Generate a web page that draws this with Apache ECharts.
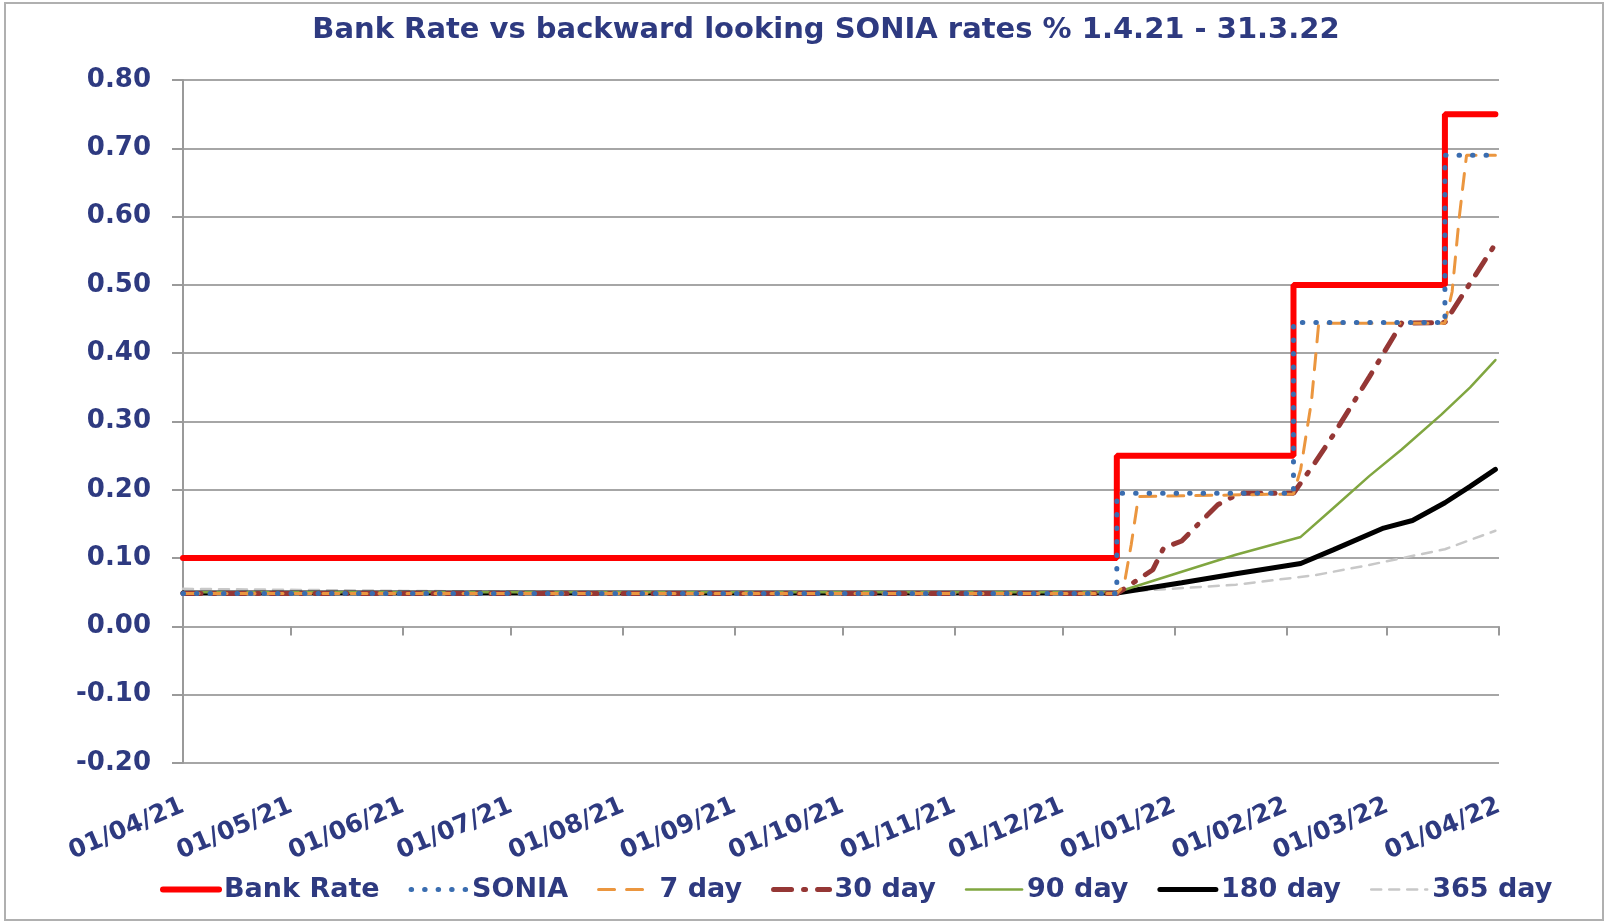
<!DOCTYPE html>
<html>
<head>
<meta charset="utf-8">
<title>Bank Rate vs SONIA</title>
<script src="https://cdn.jsdelivr.net/npm/echarts@6/dist/echarts.min.js"></script>
<style>
  html, body { margin: 0; padding: 0; background: #fff; }
  #main { width: 1608px; height: 922px; }
</style>
</head>
<body>
<div id="main"></div>
<script>
// 刻度（每月1日）
var monthTicks = ['2021-04-01', '2021-05-01', '2021-06-01', '2021-07-01', '2021-08-01', '2021-09-01',
  '2021-10-01', '2021-11-01', '2021-12-01', '2022-01-01', '2022-02-01', '2022-03-01', '2022-04-01'];

// 各序列：[日期, %]
var bankRate = [['2021-04-01', 0.10], ['2021-12-16', 0.25], ['2022-02-03', 0.50], ['2022-03-17', 0.75], ['2022-03-31', 0.75]];
var sonia = [['2021-04-01', 0.048], ['2021-12-16', 0.195], ['2022-02-03', 0.445], ['2022-03-17', 0.69], ['2022-03-31', 0.69]];
var day7 = [['2021-04-01', 0.048], ['2021-12-16', 0.048], ['2021-12-18', 0.06], ['2021-12-20', 0.12], ['2021-12-22', 0.19],
  ['2022-02-03', 0.194], ['2022-02-05', 0.23], ['2022-02-08', 0.33], ['2022-02-10', 0.444],
  ['2022-03-17', 0.444], ['2022-03-19', 0.49], ['2022-03-21', 0.60], ['2022-03-23', 0.69], ['2022-03-31', 0.69]];
var day30 = [['2021-04-01', 0.048], ['2021-12-16', 0.048], ['2021-12-20', 0.062], ['2021-12-26', 0.083], ['2021-12-29', 0.115],
  ['2022-01-03', 0.125], ['2022-01-08', 0.152], ['2022-01-13', 0.178], ['2022-01-19', 0.195], ['2022-02-03', 0.195],
  ['2022-02-09', 0.24], ['2022-02-14', 0.28], ['2022-02-24', 0.365], ['2022-03-05', 0.444], ['2022-03-17', 0.445],
  ['2022-03-31', 0.56]];
var day90 = [['2021-04-01', 0.050], ['2021-12-16', 0.050], ['2022-01-03', 0.08], ['2022-01-18', 0.105], ['2022-02-05', 0.131],
  ['2022-02-14', 0.173], ['2022-02-24', 0.22], ['2022-03-05', 0.259], ['2022-03-16', 0.31], ['2022-03-24', 0.35], ['2022-03-31', 0.39]];
var day180 = [['2021-04-01', 0.049], ['2021-12-16', 0.049], ['2022-01-03', 0.064], ['2022-01-18', 0.077], ['2022-02-05', 0.092],
  ['2022-02-14', 0.112], ['2022-02-28', 0.144], ['2022-03-08', 0.155], ['2022-03-17', 0.181], ['2022-03-24', 0.205], ['2022-03-31', 0.23]];
var day365 = [['2021-04-01', 0.055], ['2021-06-01', 0.052], ['2021-08-01', 0.050], ['2021-12-16', 0.050], ['2022-01-18', 0.061],
  ['2022-02-09', 0.075], ['2022-02-24', 0.09], ['2022-03-17', 0.113], ['2022-03-31', 0.14]];

var navy = '#2E3A80';
var gridGrey = '#A6A6A6';
var font = 'DejaVu Sans';

// 线型
var styles = {
  'Bank Rate': { color: '#FF0000', width: 6, type: 'solid' },
  'SONIA': { color: '#3A6DB0', width: 5, type: [0.5, 13] },
  '7 day': { color: '#EB963F', width: 3, type: [16, 12] },
  '30 day': { color: '#953735', width: 5, type: [18, 12, 2, 12] },
  '90 day': { color: '#80A640', width: 2.5, type: 'solid' },
  '180 day': { color: '#000000', width: 5, type: 'solid' },
  '365 day': { color: '#C8C8C8', width: 2.5, type: [10, 8] }
};

function toTime(s) {
  var p = s.split('-');
  return new Date(+p[0], +p[1] - 1, +p[2]).getTime();
}
function pad(n) { return n < 10 ? '0' + n : '' + n; }

var tickValues = monthTicks.map(toTime);

function lineSeries(name, data, step) {
  var s = styles[name];
  return {
    name: name,
    type: 'line',
    symbol: 'none',
    step: step || false,
    color: s.color,
    lineStyle: { color: s.color, width: s.width, type: s.type, cap: 'round' },
    data: data.map(function (d) { return [toTime(d[0]), d[1]]; })
  };
}

var legendNames = ['Bank Rate', 'SONIA', '7 day', '30 day', '90 day', '180 day', '365 day'];

var myChart = echarts.init(document.getElementById('main'));
myChart.setOption({
  backgroundColor: '#fff',
  animation: false,
  title: {
    text: 'Bank Rate vs backward looking SONIA rates % 1.4.21 - 31.3.22',
    left: 821,
    textAlign: 'center',
    top: 11,
    textStyle: { fontFamily: font, fontWeight: 'bold', fontSize: 29, color: navy }
  },
  graphic: [{
    type: 'rect',
    shape: { x: 5, y: 3, width: 1598, height: 917 },
    style: { fill: 'none', stroke: '#B0B0B0', lineWidth: 2 },
    silent: true
  }],
  legend: {
    left: 155,
    top: 871,
    itemWidth: 56,
    itemHeight: 14,
    itemGap: 29,
    itemStyle: { opacity: 0 },
    textStyle: { fontFamily: font, fontWeight: 'bold', fontSize: 27, color: navy },
    data: legendNames.map(function (n) {
      var s = styles[n];
      return { name: n, lineStyle: { color: s.color, width: s.width, type: s.type, cap: 'round' } };
    })
  },
  grid: { left: 183, right: 109, top: 80, bottom: 159 },
  xAxis: [
    {
      type: 'value',
      min: tickValues[0],
      max: tickValues[tickValues.length - 1],
      axisLine: { show: false },
      axisTick: { show: false },
      splitLine: { show: false },
      axisLabel: {
        customValues: tickValues,
        rotate: 23,
        margin: 42,
        fontFamily: font,
        fontWeight: 'bold',
        fontSize: 25,
        color: navy,
        formatter: function (v) {
          var d = new Date(v);
          return pad(d.getDate()) + '/' + pad(d.getMonth() + 1) + '/' + pad(d.getFullYear() % 100);
        }
      }
    },
    {
      // 0 线上的刻度
      type: 'value',
      min: tickValues[0],
      max: tickValues[tickValues.length - 1],
      position: 'bottom',
      axisLine: { show: true, onZero: true, onZeroAxisIndex: 0, lineStyle: { color: gridGrey, width: 2 } },
      axisTick: { show: true, customValues: tickValues, length: 9, lineStyle: { color: '#999', width: 2 } },
      axisLabel: { show: false },
      splitLine: { show: false }
    }
  ],
  yAxis: {
    type: 'value',
    min: -0.2,
    max: 0.8,
    interval: 0.1,
    axisLine: { show: true, lineStyle: { color: '#9A9A9A', width: 2 } },
    axisTick: { show: true, length: 11, lineStyle: { color: '#9A9A9A', width: 2 } },
    splitLine: { show: true, lineStyle: { color: gridGrey, width: 2 } },
    axisLabel: {
      margin: 32,
      fontFamily: font,
      fontWeight: 'bold',
      fontSize: 26,
      color: navy,
      formatter: function (v) { return v.toFixed(2); }
    }
  },
  series: [
    lineSeries('365 day', day365),
    lineSeries('180 day', day180),
    lineSeries('90 day', day90),
    lineSeries('30 day', day30),
    lineSeries('7 day', day7),
    lineSeries('Bank Rate', bankRate, 'end'),
    lineSeries('SONIA', sonia, 'end')
  ]
});
</script>
</body>
</html>
